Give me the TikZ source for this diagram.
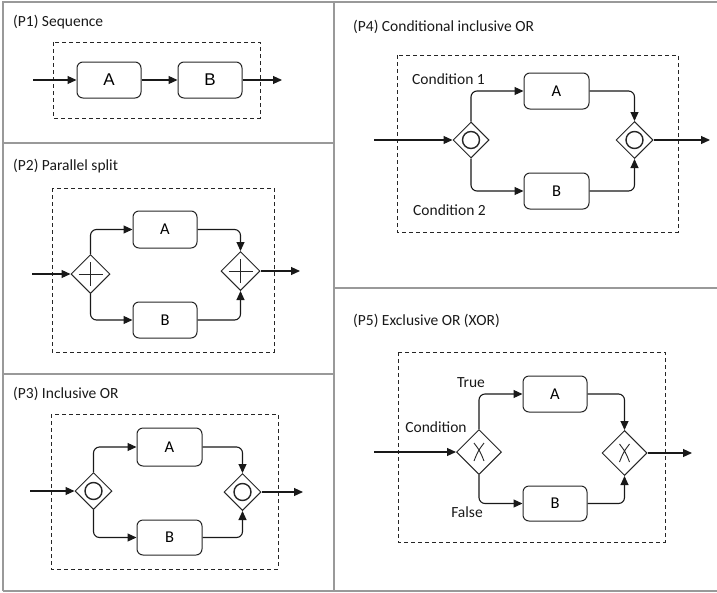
\documentclass[tikz,border=0pt]{standalone}
\usepackage{fontspec}
\setmainfont{Carlito}
\newfontfamily\arialfont{Liberation Sans}
\usetikzlibrary{arrows.meta,shapes.geometric}

\begin{document}
\begin{tikzpicture}[x=1pt,y=-1pt,
  frameline/.style={draw=black!40, line width=1.3pt},
  group/.style={draw=black!85, dash pattern=on 4pt off 3pt, line width=0.9pt},
  task/.style={draw=black!85, rounded corners=6pt, line width=1pt,
    minimum width=64pt, minimum height=36pt, inner sep=0pt,
    font=\fontsize{16.5}{18}\selectfont, text=black},
  bigtask/.style={task, font=\arialfont\fontsize{17}{19}\selectfont},
  flow/.style={draw=black!90, line width=1.1pt, rounded corners=6pt,
    -{Triangle[length=9pt,width=8pt]}},
  title/.style={anchor=base west, inner sep=0pt, font=\fontsize{15.5}{18}\selectfont, text=black!90},
  lbl/.style={inner sep=0pt, font=\fontsize{15.5}{18}\selectfont, text=black!90},
  gate/.style={diamond, draw=black!85, line width=1pt, inner sep=0pt,
    minimum width=#1, minimum height=#1},
  gate/.default=39pt,
  andgate/.style={gate=#1, path picture={
    \draw[line width=1pt]
      ([xshift=-12pt]path picture bounding box.center) -- ([xshift=12pt]path picture bounding box.center)
      ([yshift=-12pt]path picture bounding box.center) -- ([yshift=12pt]path picture bounding box.center);}},
  andgate/.default=39pt,
  orgate/.style={gate=#1, path picture={
    \draw[line width=1.4pt] (path picture bounding box.center) circle[radius=8.5pt];}},
  orgate/.default=37pt,
  xorgate/.style={gate=#1, path picture={
    \draw[line width=0.9pt]
      ([xshift=-5pt,yshift=9pt]path picture bounding box.center) .. controls ([xshift=1pt,yshift=1pt]path picture bounding box.center) .. ([xshift=5pt,yshift=-9pt]path picture bounding box.center)
      ([xshift=5pt,yshift=9pt]path picture bounding box.center) .. controls ([xshift=-1pt,yshift=1pt]path picture bounding box.center) .. ([xshift=-5pt,yshift=-9pt]path picture bounding box.center);}},
  xorgate/.default=45pt
]
\useasboundingbox (0,0) rectangle (717,592);

% panel frame
\draw[frameline] (3,591) -- (3,2) -- (717,2);
\draw[frameline] (3,591) -- (717,591);
\draw[frameline] (334,2) -- (334,591);
\draw[frameline] (3,143) -- (334,143);
\draw[frameline] (3,374) -- (334,374);
\draw[frameline] (334,288) -- (717,288);

% ---------- (P1) Sequence ----------
\node[title] (t1) at (13,26) {(P1) Sequence};
\draw[group] (53,42) rectangle (260,118);
\node[bigtask] (a1) at (109,80) {A};
\node[bigtask] (b1) at (210,80) {B};
\coordinate (in1) at (33,80);
\coordinate (out1) at (282,80);
\draw[flow] (in1) -- (a1.west);
\draw[flow] (a1.east) -- (b1.west);
\draw[flow] (b1.east) -- (out1);

% ---------- (P2) Parallel split ----------
\node[title] (t2) at (13,170) {(P2) Parallel split};
\draw[group] (52,188) rectangle (274,352);
\node[andgate] (s2) at (90.5,274) {};
\node[andgate] (j2) at (240.5,271) {};
\node[task, minimum height=37pt] (a2) at (165,229.5) {A};
\node[task] (b2) at (165,320) {B};
\coordinate (in2) at (32,274);
\coordinate (out2) at (300,271);
\draw[flow] (in2) -- (s2.west);
\draw[flow] (s2.north) |- (a2.west);
\draw[flow] (s2.south) |- (b2.west);
\draw[flow] (a2.east) -| (j2.north);
\draw[flow] (b2.east) -| (j2.south);
\draw[flow] (j2.east) -- (out2);

% ---------- (P3) Inclusive OR ----------
\node[title] (t3) at (13,398) {(P3) Inclusive OR};
\draw[group] (51,414) rectangle (278,569);
\node[orgate] (s3) at (93.5,491) {};
\node[orgate] (j3) at (242.5,492) {};
\node[task, minimum width=65pt, minimum height=38pt] (a3) at (169.5,447) {A};
\node[task, minimum width=65pt, minimum height=35pt] (b3) at (169.5,537.5) {B};
\coordinate (in3) at (30,491);
\coordinate (out3) at (303,492);
\draw[flow] (in3) -- (s3.west);
\draw[flow] (s3.north) |- (a3.west);
\draw[flow] (s3.south) |- (b3.west);
\draw[flow] (a3.east) -| (j3.north);
\draw[flow] (b3.east) -| (j3.south);
\draw[flow] (j3.east) -- (out3);

% ---------- (P4) Conditional inclusive OR ----------
\node[title] (t4) at (353,31) {(P4) Conditional inclusive OR};
\draw[group] (397,55) rectangle (678,232);
\node[orgate=36pt] (s4) at (471,140) {};
\node[orgate] (j4) at (634.5,140) {};
\node[task, minimum width=65pt] (a4) at (556.5,91) {A};
\node[task, minimum width=65pt] (b4) at (556.5,191) {B};
\coordinate (in4) at (374,140);
\coordinate (out4) at (710,140);
\draw[flow] (in4) -- (s4.west);
\draw[flow] (s4.north) |- (a4.west);
\draw[flow] (s4.south) |- (b4.west);
\draw[flow] (a4.east) -| (j4.north);
\draw[flow] (b4.east) -| (j4.south);
\draw[flow] (j4.east) -- (out4);
\node[lbl] (c41) at (448.5,79) {Condition 1};
\node[lbl] (c42) at (449.5,210) {Condition 2};

% ---------- (P5) Exclusive OR (XOR) ----------
\node[title] (t5) at (353,325) {(P5) Exclusive OR (XOR)};
\draw[group] (398,352) rectangle (665,542);
\node[xorgate] (s5) at (479,452) {};
\node[xorgate] (j5) at (624.5,453) {};
\node[task] (a5) at (555,394) {A};
\node[task, minimum height=35pt] (b5) at (555,503.5) {B};
\coordinate (in5) at (374,452);
\coordinate (out5) at (692,453);
\draw[flow] (in5) -- (s5.west);
\draw[flow] (s5.north) |- (a5.west);
\draw[flow] (s5.south) |- (b5.west);
\draw[flow] (a5.east) -| (j5.north);
\draw[flow] (b5.east) -| (j5.south);
\draw[flow] (j5.east) -- (out5);
\node[lbl] (tr5) at (471,383) {True};
\node[lbl] (cd5) at (436,427) {Condition};
\node[lbl] (fa5) at (467,512) {False};
\end{tikzpicture}
\end{document}
